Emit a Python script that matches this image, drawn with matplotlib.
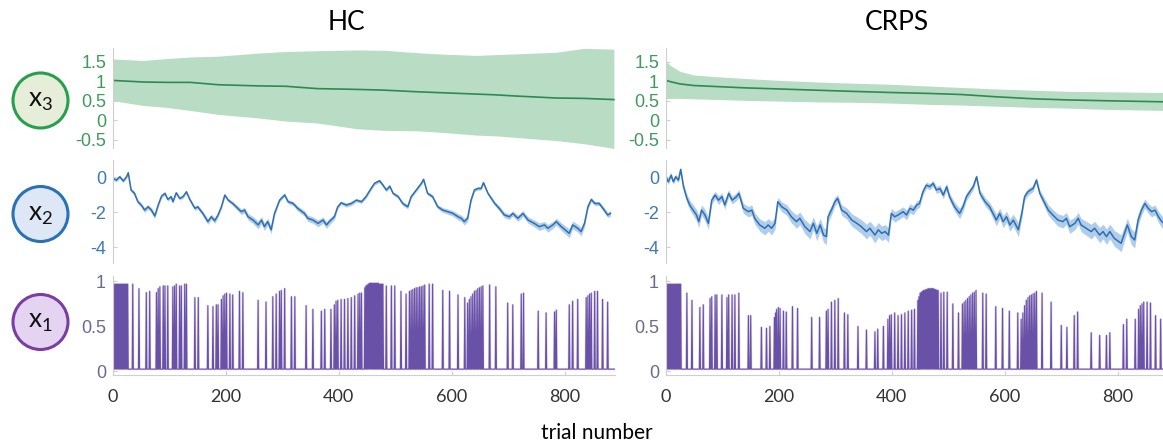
import numpy as np
import matplotlib
matplotlib.use("Agg")
import matplotlib.pyplot as plt
from matplotlib.patches import Ellipse

plt.rcParams['mathtext.default'] = 'regular'

# ---------- x3 (top row) ----------
x3_hc_trial = [0, 53, 95, 137, 186, 257, 306, 362, 433, 482, 538, 573, 644, 679, 714, 785, 834, 887]
x3_hc_mean = [1.02, 0.98, 0.97, 0.97, 0.91, 0.88, 0.87, 0.81, 0.79, 0.77, 0.73, 0.71, 0.67, 0.65, 0.62, 0.57, 0.56, 0.53]
x3_hc_upper = [1.57, 1.53, 1.58, 1.62, 1.64, 1.72, 1.76, 1.78, 1.80, 1.79, 1.73, 1.70, 1.66, 1.68, 1.70, 1.74, 1.84, 1.82]
x3_hc_lower = [0.50, 0.38, 0.33, 0.25, 0.15, 0.06, -0.02, -0.07, -0.22, -0.26, -0.27, -0.30, -0.38, -0.40, -0.44, -0.52, -0.60, -0.72]

x3_crps_trial = [0, 10, 25, 49, 94, 139, 203, 266, 330, 400, 458, 522, 586, 650, 714, 778, 890]
x3_crps_mean = [1.02, 0.98, 0.93, 0.89, 0.86, 0.83, 0.80, 0.77, 0.74, 0.71, 0.69, 0.66, 0.60, 0.55, 0.52, 0.50, 0.47]
x3_crps_upper = [1.50, 1.38, 1.25, 1.16, 1.11, 1.07, 1.02, 0.98, 0.95, 0.92, 0.88, 0.84, 0.80, 0.77, 0.74, 0.73, 0.71]
x3_crps_lower = [0.55, 0.56, 0.56, 0.55, 0.53, 0.51, 0.49, 0.47, 0.46, 0.44, 0.41, 0.39, 0.36, 0.33, 0.31, 0.28, 0.25]

# ---------- x2 (middle row) ----------
x2_hc_trial = [0, 6, 12, 18, 24, 27, 32, 38, 44, 50,
               56, 62, 68, 74, 80, 86, 92, 97, 103, 106,
               112, 118, 124, 130, 136, 145, 150, 159, 168, 174,
               180, 186, 192, 198, 204, 212, 221, 227, 233, 239,
               248, 257, 263, 268, 274, 280, 286, 295, 304, 310,
               319, 327, 339, 345, 354, 363, 372, 378, 383, 392,
               398, 404, 413, 422, 431, 440, 448, 457, 463, 472,
               478, 484, 490, 496, 505, 513, 522, 528, 537, 546,
               550, 557, 566, 575, 584, 593, 602, 611, 617, 622,
               628, 634, 640, 646, 652, 656, 664, 676, 684, 693,
               702, 708, 717, 726, 735, 746, 755, 764, 770, 779,
               785, 794, 808, 814, 823, 829, 835, 841, 847, 853,
               861, 870, 876, 881]
x2_hc_mean = [-0.06, -0.15, 0.04, -0.2, 0.04, 0.27, -0.72, -0.91, -1.39, -1.58,
              -1.87, -1.68, -1.87, -2.21, -1.58, -1.07, -0.91, -1.26, -1.1, -1.39,
              -0.88, -1.2, -1.1, -0.82, -1.26, -1.77, -1.68, -2.06, -2.53, -2.25,
              -2.48, -2.15, -1.68, -1.01, -1.3, -1.49, -1.77, -1.96, -1.87, -2.25,
              -2.44, -2.72, -2.44, -2.82, -2.53, -3.0, -2.06, -1.3, -1.0, -1.39,
              -1.49, -1.77, -2.06, -2.34, -2.44, -2.63, -2.44, -2.72, -2.53, -2.25,
              -1.68, -1.45, -1.58, -1.49, -1.3, -1.39, -1.1, -0.63, -0.34, -0.19,
              -0.44, -0.72, -0.5, -0.91, -1.1, -1.49, -1.68, -1.1, -0.72, -0.34,
              -0.11, -0.91, -1.1, -1.68, -1.87, -1.96, -2.06, -2.25, -2.34, -2.53,
              -2.34, -1.3, -0.72, -0.63, -0.63, -0.3, -0.91, -1.49, -1.77, -2.15,
              -2.25, -2.06, -2.34, -2.06, -2.44, -2.63, -2.82, -2.72, -2.91, -2.72,
              -2.53, -2.82, -3.2, -2.72, -2.91, -3.1, -2.63, -1.68, -1.26, -1.49,
              -1.49, -1.87, -2.15, -2.06]
x2_hc_sd = [0.1, 0.1, 0.1, 0.1, 0.1, 0.1, 0.1, 0.12, 0.12, 0.12,
            0.14, 0.14, 0.14, 0.15, 0.12, 0.1, 0.1, 0.1, 0.1, 0.1,
            0.1, 0.1, 0.1, 0.1, 0.1, 0.12, 0.12, 0.14, 0.16, 0.15,
            0.16, 0.14, 0.12, 0.1, 0.1, 0.12, 0.14, 0.16, 0.16, 0.18,
            0.2, 0.22, 0.2, 0.22, 0.2, 0.22, 0.15, 0.1, 0.1, 0.12,
            0.12, 0.14, 0.16, 0.18, 0.18, 0.2, 0.18, 0.2, 0.18, 0.16,
            0.12, 0.1, 0.12, 0.12, 0.1, 0.1, 0.1, 0.1, 0.1, 0.1,
            0.1, 0.1, 0.1, 0.1, 0.1, 0.12, 0.12, 0.1, 0.1, 0.1,
            0.1, 0.1, 0.1, 0.12, 0.14, 0.15, 0.16, 0.18, 0.18, 0.2,
            0.18, 0.12, 0.1, 0.1, 0.1, 0.1, 0.1, 0.12, 0.14, 0.16,
            0.16, 0.15, 0.18, 0.16, 0.18, 0.2, 0.22, 0.2, 0.22, 0.2,
            0.2, 0.22, 0.25, 0.22, 0.22, 0.24, 0.2, 0.14, 0.12, 0.12,
            0.12, 0.14, 0.15, 0.15]

x2_crps_trial = [0, 4, 9, 13, 17, 22, 26, 31, 37, 42,
                 48, 54, 58, 63, 69, 75, 81, 87, 93, 99,
                 104, 111, 117, 125, 129, 137, 146, 152, 157, 166,
                 175, 181, 187, 193, 198, 205, 214, 222, 231, 237,
                 246, 255, 261, 267, 273, 279, 284, 287, 293, 299,
                 304, 311, 320, 329, 338, 346, 355, 361, 370, 376,
                 382, 388, 394, 399, 405, 411, 420, 426, 432, 438,
                 444, 449, 455, 461, 467, 473, 479, 485, 491, 497,
                 502, 511, 520, 526, 532, 538, 544, 550, 556, 565,
                 573, 579, 585, 591, 597, 603, 609, 615, 624, 630,
                 635, 641, 650, 656, 662, 668, 677, 685, 694, 703,
                 709, 715, 724, 730, 735, 744, 753, 759, 768, 774,
                 780, 786, 794, 806, 812, 817, 824, 830, 836, 842,
                 848, 854, 860, 866, 872, 878, 885]
x2_crps_mean = [0.04, -0.25, 0.13, -0.25, 0.04, -0.15, 0.46, -0.53, -1.2, -1.58,
                -1.87, -2.15, -2.53, -1.87, -2.15, -2.63, -1.3, -1.01, -1.3, -1.1,
                -1.58, -0.91, -1.3, -1.1, -0.91, -1.77, -1.96, -1.87, -2.34, -2.72,
                -2.91, -2.72, -2.91, -2.63, -1.39, -1.68, -1.87, -2.25, -2.53, -2.34,
                -2.82, -3.1, -2.63, -3.2, -2.72, -3.3, -3.39, -2.25, -1.87, -1.39,
                -1.2, -1.87, -2.06, -2.44, -2.63, -2.82, -3.1, -2.91, -3.3, -3.0,
                -3.2, -3.1, -3.3, -2.06, -2.25, -2.15, -1.96, -2.15, -1.77, -1.87,
                -1.58, -1.49, -0.82, -0.44, -0.53, -0.34, -0.72, -0.63, -1.01, -0.53,
                -1.1, -1.68, -2.06, -1.68, -1.1, -0.82, -0.53, 0.04, -0.91, -1.39,
                -1.68, -2.06, -2.44, -2.06, -2.53, -2.25, -2.72, -2.44, -3.0, -2.06,
                -1.1, -0.82, -0.63, -0.15, -0.91, -1.3, -1.87, -2.15, -2.44, -2.53,
                -2.34, -2.82, -2.63, -2.34, -2.72, -2.91, -3.1, -2.91, -3.3, -3.1,
                -3.39, -3.1, -3.49, -3.77, -3.2, -2.72, -3.39, -3.58, -2.44, -1.87,
                -1.49, -1.77, -1.96, -1.87, -2.25, -2.53, -2.7]
x2_crps_sd = [0.15, 0.15, 0.15, 0.15, 0.15, 0.15, 0.15, 0.2, 0.25, 0.28,
              0.3, 0.32, 0.35, 0.3, 0.32, 0.35, 0.25, 0.22, 0.25, 0.22,
              0.25, 0.22, 0.22, 0.22, 0.22, 0.28, 0.3, 0.3, 0.32, 0.35,
              0.38, 0.36, 0.38, 0.35, 0.25, 0.28, 0.3, 0.35, 0.38, 0.36,
              0.4, 0.42, 0.38, 0.42, 0.38, 0.42, 0.45, 0.32, 0.28, 0.25,
              0.22, 0.3, 0.32, 0.36, 0.38, 0.4, 0.42, 0.4, 0.45, 0.42,
              0.42, 0.4, 0.42, 0.3, 0.3, 0.3, 0.28, 0.28, 0.26, 0.26,
              0.24, 0.22, 0.2, 0.18, 0.18, 0.18, 0.2, 0.2, 0.22, 0.2,
              0.22, 0.26, 0.3, 0.26, 0.22, 0.2, 0.18, 0.15, 0.2, 0.24,
              0.26, 0.3, 0.34, 0.3, 0.35, 0.32, 0.36, 0.34, 0.4, 0.3,
              0.22, 0.2, 0.18, 0.15, 0.2, 0.24, 0.3, 0.32, 0.35, 0.36,
              0.34, 0.38, 0.36, 0.34, 0.38, 0.4, 0.42, 0.4, 0.44, 0.42,
              0.45, 0.42, 0.45, 0.48, 0.42, 0.38, 0.45, 0.46, 0.35, 0.3,
              0.26, 0.28, 0.3, 0.28, 0.32, 0.34, 0.35]

# ---------- x1 (bottom row): spikes on a flat baseline ----------
n_trials = 890
x1_base = 0.025
x1_hc_spike_trial = [0, 2, 4, 6, 8, 10, 12, 14, 16, 18, 20, 22, 24, 26,
                     35, 46, 59, 65, 77, 80, 83, 89, 92, 97, 106, 109, 112, 118, 121, 127, 130,
                     145, 151, 168, 177, 183, 186, 192, 195, 198, 201, 207, 212, 224, 230,
                     257, 271, 283, 289, 295, 298, 304, 316, 322, 342, 354, 369, 375, 386,
                     392, 395, 398, 404, 410, 416, 422, 428, 434, 437, 440,
                     446, 448, 450, 452, 454, 456, 458, 460, 462, 464, 466, 468, 470, 472, 474, 476, 478,
                     484, 493, 499, 510, 519, 525,
                     528, 531, 534, 537, 540, 543, 546, 549, 552,
                     560, 566, 584, 596, 611, 623,
                     628, 631, 634, 637, 640, 643, 646, 649, 652, 655,
                     667, 678, 699, 708, 723, 727, 753, 767, 782, 785,
                     808, 814, 823, 838, 841, 844, 847, 853, 858, 867, 876]
x1_hc_spike_value = [0.97, 0.97, 0.97, 0.97, 0.97, 0.97, 0.97, 0.97, 0.97, 0.97, 0.97, 0.97, 0.97, 0.97,
                     0.97, 0.92, 0.875, 0.89, 0.875, 0.92, 0.94, 0.95, 0.95, 0.95, 0.94, 0.95, 0.97, 0.95, 0.95, 0.97, 0.97,
                     0.82, 0.82, 0.73, 0.72, 0.74, 0.74, 0.8, 0.84, 0.86, 0.87, 0.86, 0.85, 0.89, 0.875,
                     0.79, 0.77, 0.83, 0.86, 0.89, 0.9, 0.92, 0.83, 0.83, 0.73, 0.69, 0.67, 0.69, 0.69,
                     0.74, 0.78, 0.79, 0.8, 0.8, 0.81, 0.82, 0.84, 0.86, 0.87, 0.87,
                     0.93, 0.95, 0.96, 0.97, 0.98, 0.98, 0.98, 0.98, 0.98, 0.98, 0.98, 0.98, 0.98, 0.97, 0.97, 0.97, 0.97,
                     0.95, 0.95, 0.95, 0.89, 0.86, 0.89,
                     0.9, 0.91, 0.92, 0.93, 0.93, 0.94, 0.94, 0.95, 0.96,
                     0.97, 0.97, 0.9, 0.89, 0.85, 0.82,
                     0.76, 0.8, 0.83, 0.86, 0.89, 0.9, 0.92, 0.93, 0.94, 0.95,
                     0.96, 0.94, 0.76, 0.74, 0.86, 0.87, 0.67, 0.65, 0.66, 0.68,
                     0.74, 0.78, 0.8, 0.82, 0.84, 0.86, 0.87, 0.89, 0.89, 0.8, 0.77]

x1_crps_spike_trial = [0, 2, 4, 6, 8, 10, 12, 14, 16, 18, 20, 22, 24, 26,
                       37, 46, 60, 66, 78, 81, 87, 90, 99, 108, 111, 117, 122, 129,
                       146, 150, 169, 178, 184, 192, 194, 196, 199, 202, 208, 213, 224, 233,
                       258, 272, 284, 287, 293, 299, 305, 316, 322, 340, 355, 370, 375, 385,
                       393, 396, 399, 405, 411, 417, 423, 429, 435, 440,
                       446, 448, 450, 452, 454, 456, 458, 460, 462, 464, 466, 468, 470, 472, 474, 476, 478, 480, 482,
                       487, 492, 498, 508, 518,
                       525, 528, 531, 534, 537, 540, 543, 546, 549,
                       561, 567, 584, 596, 608, 623,
                       629, 632, 635, 638, 641, 644, 647, 650, 653, 656,
                       666, 682, 700, 710, 723, 729, 753, 768, 780, 786,
                       810, 816, 831, 837, 840, 843, 846, 852, 858, 867, 876, 884]
x1_crps_spike_value = [0.97, 0.97, 0.97, 0.97, 0.97, 0.97, 0.97, 0.97, 0.97, 0.97, 0.97, 0.97, 0.97, 0.97,
                       0.87, 0.79, 0.71, 0.74, 0.81, 0.83, 0.85, 0.85, 0.85, 0.82, 0.85, 0.85, 0.85, 0.87,
                       0.62, 0.62, 0.49, 0.48, 0.5, 0.6, 0.65, 0.69, 0.71, 0.7, 0.67, 0.66, 0.72, 0.7,
                       0.6, 0.6, 0.67, 0.69, 0.77, 0.79, 0.81, 0.65, 0.63, 0.5, 0.46, 0.44, 0.47, 0.5,
                       0.58, 0.62, 0.63, 0.65, 0.62, 0.63, 0.65, 0.67, 0.68, 0.69,
                       0.79, 0.83, 0.87, 0.88, 0.89, 0.9, 0.9, 0.91, 0.91, 0.92, 0.92, 0.92, 0.92, 0.92, 0.92, 0.91, 0.91, 0.9, 0.9,
                       0.87, 0.88, 0.88, 0.75, 0.65,
                       0.75, 0.77, 0.79, 0.81, 0.83, 0.85, 0.87, 0.88, 0.9,
                       0.87, 0.86, 0.72, 0.7, 0.67, 0.65,
                       0.58, 0.65, 0.73, 0.79, 0.82, 0.84, 0.85, 0.86, 0.87, 0.89,
                       0.87, 0.77, 0.51, 0.49, 0.62, 0.66, 0.43, 0.4, 0.4, 0.43,
                       0.52, 0.58, 0.58, 0.69, 0.73, 0.75, 0.77, 0.77, 0.76, 0.62, 0.58, 0.55]

x_ticks = [0, 200, 400, 600, 800]

# ---------- styling ----------
W, H = 1163, 446
green_line, green_fill, green_txt = '#2d8a50', '#b9dcc4', '#3f9a5c'
blue_line, blue_fill, blue_txt = '#2f6fae', '#b0cdec', '#3d79b6'
purple_line, purple_fill, purple_txt = '#6a51a8', '#cbbde6', '#6c6a8e'
spine_col = '#cfcfcf'
tick_font = 'Liberation Sans'
label_font = 'Lato'

fig = plt.figure(figsize=(W / 100, H / 100), dpi=100)


def add_ax(left_px, top_px, bottom_px, width_px=502):
    return fig.add_axes([left_px / W, 1 - bottom_px / H, width_px / W, (bottom_px - top_px) / H])


def style(ax, ylim, yticks, yticklabels, color, bottom=False):
    ax.set_xlim(0, 889)
    ax.set_ylim(*ylim)
    for s in ['top', 'right']:
        ax.spines[s].set_visible(False)
    ax.spines['left'].set_color(spine_col)
    ax.spines['bottom'].set_visible(bottom)
    ax.spines['bottom'].set_color(spine_col)
    ax.set_yticks(yticks)
    ax.set_yticklabels(yticklabels, fontsize=13, color=color, family=tick_font)
    ax.tick_params(axis='y', direction='in', length=3, color=spine_col, pad=5)
    if bottom:
        ax.set_xticks(x_ticks)
        ax.set_xticklabels([str(t) for t in x_ticks], fontsize=13, color='#333333', family=label_font)
        ax.tick_params(axis='x', direction='in', length=3, color=spine_col, pad=10)
    else:
        ax.set_xticks([])
    ax.patch.set_alpha(0)


cols = [(113, 'hc'), (666, 'crps')]
for left, key in cols:
    # x3
    ax3 = add_ax(left, 48, 148)
    tr = x3_hc_trial if key == 'hc' else x3_crps_trial
    mu = x3_hc_mean if key == 'hc' else x3_crps_mean
    up = x3_hc_upper if key == 'hc' else x3_crps_upper
    lo = x3_hc_lower if key == 'hc' else x3_crps_lower
    ax3.fill_between(tr, lo, up, color=green_fill, lw=0)
    ax3.plot(tr, mu, color=green_line, lw=1.2)
    style(ax3, (-0.71, 1.85), [-0.5, 0, 0.5, 1, 1.5], ['-0.5', '0', '0.5', '1', '1.5'], green_txt)

    # x2
    ax2 = add_ax(left, 160, 263)
    tr = np.array(x2_hc_trial if key == 'hc' else x2_crps_trial)
    mu = np.array(x2_hc_mean if key == 'hc' else x2_crps_mean)
    sd = np.array(x2_hc_sd if key == 'hc' else x2_crps_sd)
    ax2.fill_between(tr, mu - sd, mu + sd, color=blue_fill, lw=0)
    ax2.plot(tr, mu, color=blue_line, lw=1.1)
    style(ax2, (-4.9, 1.0), [-4, -2, 0], ['-4', '-2', '0'], blue_txt)

    # x1
    ax1 = add_ax(left, 276, 375)
    st = x1_hc_spike_trial if key == 'hc' else x1_crps_spike_trial
    sv = x1_hc_spike_value if key == 'hc' else x1_crps_spike_value
    trials = np.arange(n_trials)
    x1 = np.full(n_trials, x1_base)
    x1[st] = sv
    ax1.plot(trials, x1, color=purple_fill, lw=1.6, alpha=0.5)
    ax1.plot(trials, x1, color=purple_line, lw=0.8)
    style(ax1, (-0.04, 1.06), [0, 0.5, 1], ['0', '0.5', '1'], purple_txt, bottom=True)

# titles and x label
fig.text(346 / W, 1 - 22 / H, 'HC', ha='center', va='center', fontsize=19, family=label_font)
fig.text(897 / W, 1 - 22 / H, 'CRPS', ha='center', va='center', fontsize=19, family=label_font)
fig.text(597 / W, 1 - 433 / H, 'trial number', ha='center', va='center', fontsize=15, family=label_font)

# node circles on the left
nodes = [(100.5, '3', '#27a04c', '#e6edd9'),
         (214, '2', '#2a72b5', '#dde7f5'),
         (322, '1', '#7a3ea1', '#e4d4f1')]
for cy, sub, edge, face in nodes:
    fig.add_artist(Ellipse((40.5 / W, 1 - cy / H), 55 / W, 55 / H, transform=fig.transFigure,
                           facecolor=face, edgecolor=edge, lw=2.2))
    fig.text(40.5 / W, 1 - cy / H, 'x$_{%s}$' % sub, ha='center', va='center',
             fontsize=19, family=label_font, color='#111111')

fig.savefig('out.png', dpi=100)
